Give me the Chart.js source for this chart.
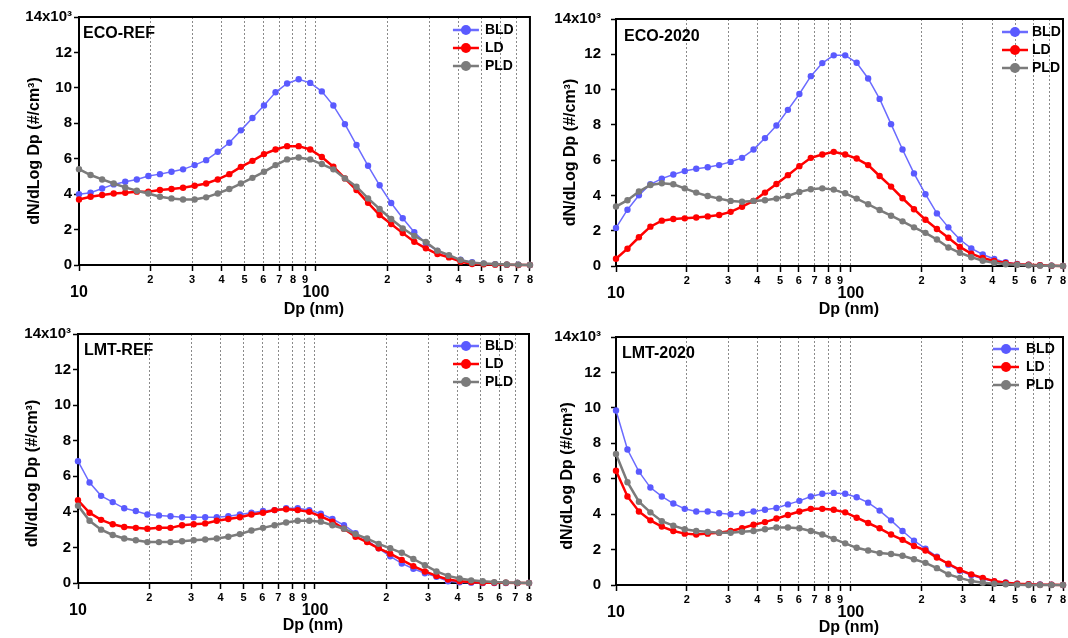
<!DOCTYPE html>
<html>
<head>
<meta charset="utf-8">
<script src="https://cdn.jsdelivr.net/npm/chart.js@4.4.1/dist/chart.umd.min.js"></script>
<style>
  html, body { margin: 0; padding: 0; background: #fff; }
  #wrap { position: relative; width: 1068px; height: 638px; overflow: hidden; }
  canvas { position: absolute; }
</style>
</head>
<body>
<div id="wrap">
  <canvas id="ecoRef" width="534" height="318" style="left:0;top:0"></canvas>
  <canvas id="eco2020" width="534" height="318" style="left:534px;top:0"></canvas>
  <canvas id="lmtRef" width="534" height="320" style="left:0;top:318px"></canvas>
  <canvas id="lmt2020" width="534" height="320" style="left:534px;top:318px"></canvas>
</div>
<script>
// particle diameters (nm), log spaced 10 -> 800
const diameters = [10.00, 11.19, 12.52, 14.01, 15.67, 17.54, 19.62, 21.96, 24.57, 27.49,
  30.76, 34.41, 38.51, 43.08, 48.21, 53.94, 60.35, 67.53, 75.56, 84.54,
  94.59, 105.86, 118.45, 132.53, 148.29, 165.92, 185.65, 207.72, 232.42, 260.06,
  290.98, 325.58, 364.29, 407.61, 456.07, 510.30, 570.97, 638.86, 714.82, 800.0];

const xTicks = [10, 20, 30, 40, 50, 60, 70, 80, 90, 100, 200, 300, 400, 500, 600, 700, 800];
const yMax = 14;
const yStep = 2;

// dN/dLogDp in units of 10^3 #/cm3
const ecoRefBld = [4.0, 4.08, 4.32, 4.55, 4.7, 4.83, 5.02, 5.13, 5.26, 5.4, 5.64, 5.92, 6.39, 6.9, 7.6, 8.3, 9.0, 9.75, 10.25, 10.49, 10.28, 9.8, 9.0, 7.95, 6.77, 5.6, 4.5, 3.5, 2.64, 1.85, 1.22, 0.8, 0.5, 0.3, 0.16, 0.08, 0.04, 0.02, 0.01, 0];
const ecoRefLd = [3.7, 3.85, 3.95, 4.04, 4.08, 4.14, 4.14, 4.23, 4.29, 4.36, 4.47, 4.6, 4.83, 5.13, 5.54, 5.88, 6.26, 6.52, 6.71, 6.71, 6.52, 6.1, 5.55, 4.89, 4.23, 3.51, 2.82, 2.31, 1.8, 1.31, 0.94, 0.62, 0.43, 0.19, 0.05, 0.04, 0.02, 0.01, 0, 0];
const ecoRefPld = [5.41, 5.08, 4.83, 4.6, 4.38, 4.19, 4.04, 3.85, 3.76, 3.7, 3.7, 3.82, 4.04, 4.29, 4.6, 4.92, 5.26, 5.64, 5.96, 6.07, 5.96, 5.7, 5.4, 4.89, 4.42, 3.76, 3.16, 2.6, 2.07, 1.64, 1.3, 0.81, 0.56, 0.28, 0.13, 0.09, 0.05, 0.03, 0.02, 0];

const eco2020Bld = [2.16, 3.19, 4.01, 4.63, 4.95, 5.19, 5.38, 5.51, 5.6, 5.72, 5.9, 6.13, 6.6, 7.25, 7.96, 8.85, 9.75, 10.76, 11.5, 11.94, 11.94, 11.52, 10.63, 9.47, 8.04, 6.6, 5.25, 4.07, 2.98, 2.19, 1.5, 1.0, 0.65, 0.4, 0.22, 0.12, 0.07, 0.04, 0.02, 0];
const eco2020Ld = [0.41, 0.98, 1.63, 2.23, 2.57, 2.66, 2.7, 2.75, 2.81, 2.89, 3.07, 3.36, 3.69, 4.16, 4.65, 5.15, 5.66, 6.13, 6.32, 6.47, 6.32, 6.09, 5.72, 5.1, 4.5, 3.84, 3.22, 2.62, 2.1, 1.6, 1.08, 0.7, 0.45, 0.28, 0.17, 0.1, 0.07, 0.04, 0.02, 0];
const eco2020Pld = [3.37, 3.73, 4.22, 4.59, 4.69, 4.63, 4.4, 4.16, 3.97, 3.82, 3.69, 3.64, 3.69, 3.73, 3.82, 3.97, 4.2, 4.35, 4.4, 4.33, 4.12, 3.82, 3.5, 3.17, 2.85, 2.53, 2.19, 1.88, 1.5, 1.05, 0.75, 0.5, 0.3, 0.18, 0.1, 0.07, 0.04, 0.02, 0.02, 0];

const lmtRefBld = [6.85, 5.65, 4.9, 4.55, 4.2, 4.05, 3.85, 3.8, 3.75, 3.7, 3.7, 3.7, 3.7, 3.75, 3.85, 3.95, 4.05, 4.1, 4.2, 4.2, 4.1, 3.9, 3.6, 3.25, 2.8, 2.4, 1.95, 1.5, 1.1, 0.8, 0.55, 0.35, 0.1, 0.04, 0.02, 0, 0, 0, 0, 0];
const lmtRefLd = [4.65, 3.95, 3.55, 3.3, 3.15, 3.1, 3.05, 3.1, 3.1, 3.25, 3.3, 3.35, 3.5, 3.6, 3.7, 3.85, 3.95, 4.1, 4.15, 4.1, 4.0, 3.75, 3.45, 3.05, 2.6, 2.3, 1.95, 1.65, 1.3, 0.95, 0.65, 0.4, 0.2, 0.1, 0.05, 0.02, 0.02, 0.01, 0, 0];
const lmtRefPld = [4.35, 3.5, 3.0, 2.7, 2.5, 2.4, 2.3, 2.3, 2.3, 2.35, 2.4, 2.45, 2.5, 2.6, 2.75, 2.95, 3.1, 3.25, 3.4, 3.5, 3.5, 3.45, 3.25, 3.05, 2.75, 2.5, 2.2, 1.95, 1.7, 1.35, 1.0, 0.65, 0.4, 0.25, 0.15, 0.1, 0.05, 0.03, 0.01, 0];

const lmt2020Bld = [9.85, 7.65, 6.4, 5.5, 5.0, 4.6, 4.3, 4.15, 4.15, 4.05, 4.0, 4.05, 4.15, 4.25, 4.35, 4.55, 4.75, 5.0, 5.15, 5.2, 5.15, 4.95, 4.65, 4.2, 3.65, 3.05, 2.5, 2.05, 1.6, 1.15, 0.8, 0.55, 0.35, 0.2, 0.15, 0.08, 0.05, 0.03, 0.02, 0];
const lmt2020Ld = [6.45, 5.0, 4.15, 3.65, 3.3, 3.05, 2.9, 2.85, 2.9, 2.95, 3.05, 3.2, 3.4, 3.55, 3.75, 3.95, 4.15, 4.3, 4.3, 4.25, 4.1, 3.8, 3.5, 3.2, 2.85, 2.55, 2.2, 1.95, 1.55, 1.2, 0.85, 0.6, 0.4, 0.22, 0.13, 0.07, 0.04, 0.02, 0.01, 0];
const lmt2020Pld = [7.4, 5.8, 4.7, 4.1, 3.6, 3.35, 3.15, 3.05, 3.0, 2.95, 2.95, 3.0, 3.05, 3.15, 3.25, 3.25, 3.2, 3.05, 2.85, 2.6, 2.35, 2.1, 1.95, 1.8, 1.75, 1.65, 1.45, 1.25, 0.95, 0.6, 0.4, 0.22, 0.13, 0.07, 0.04, 0.02, 0, 0, 0, 0];

const xTitle = 'Dp (nm)';
const yTitle = 'dN/dLog Dp (#/cm\u00b3)';

const FONT = "'Liberation Sans', Arial, Helvetica, sans-serif";
Chart.defaults.font.family = FONT;
Chart.defaults.color = '#000';

const BLD_LINE = '#6b6bff', BLD_DOT = '#5a5aff';
const LD_COLOR = '#ff0000';
const PLD_COLOR = '#7b7b7b';

// frame, axis titles, panel name and in-plot legend
const panelDecor = {
  id: 'panelDecor',
  beforeDatasetsDraw(chart) {
    const { ctx, chartArea: a } = chart;
    ctx.save();
    ctx.strokeStyle = '#000';
    ctx.lineWidth = 2;
    ctx.strokeRect(a.left, a.top, a.right - a.left, a.bottom - a.top);
    ctx.restore();
  },
  afterDraw(chart, args, o) {
    const { ctx, chartArea: a } = chart;
    ctx.save();
    ctx.fillStyle = '#000';
    ctx.textBaseline = 'middle';

    // axis titles
    ctx.font = 'bold 16px ' + FONT;
    ctx.textAlign = 'center';
    ctx.fillText(xTitle, chart.scales.x.getPixelForValue(100) - 2, o.xTitleY);
    ctx.save();
    ctx.translate(o.yTitleX, (a.top + a.bottom) / 2 + o.yTitleShift);
    ctx.rotate(-Math.PI / 2);
    ctx.fillText(yTitle, 0, 0);
    ctx.restore();

    ctx.textAlign = 'left';
    ctx.fillText(o.name, a.left + o.nameDx, a.top + o.nameDy);

    ctx.font = 'bold 14px ' + FONT;
    chart.data.datasets.forEach((ds, i) => {
      const y = a.top + o.legDy + i * 18;
      const mx = a.right + o.legMark;
      ctx.strokeStyle = ds.borderColor;
      ctx.lineWidth = 2.5;
      ctx.beginPath();
      ctx.moveTo(mx - 13, y);
      ctx.lineTo(mx + 13, y);
      ctx.stroke();
      ctx.fillStyle = ds.pointBackgroundColor;
      ctx.beginPath();
      ctx.arc(mx, y, 5, 0, Math.PI * 2);
      ctx.fill();
      ctx.fillStyle = '#000';
      ctx.fillText(ds.label, a.right + o.legText, y);
    });
    ctx.restore();
  }
};

function series(label, vals, line, dot, width, order) {
  return {
    label,
    data: diameters.map((d, i) => ({ x: d, y: vals[i] })),
    borderColor: line,
    backgroundColor: dot,
    pointBackgroundColor: dot,
    pointBorderColor: dot,
    borderWidth: width,
    pointRadius: 3.2,
    pointBorderWidth: 0,
    pointHoverRadius: 3.2,
    tension: 0,
    clip: false,
    order
  };
}

const isMajor = (v) => v === 10 || v === 100;

function makePanel(id, bld, ld, pld, g) {
  new Chart(document.getElementById(id), {
    type: 'line',
    data: {
      datasets: [
        series('BLD', bld, BLD_LINE, BLD_DOT, 1.5, 2),
        series('LD', ld, LD_COLOR, LD_COLOR, 2.5, 1),
        series('PLD', pld, PLD_COLOR, PLD_COLOR, 2.5, 0)
      ]
    },
    options: {
      responsive: false,
      animation: false,
      devicePixelRatio: 1,
      layout: { padding: { left: 0, right: g.padR, top: g.padT, bottom: 0 } },
      plugins: {
        legend: { display: false },
        tooltip: { enabled: false },
        panelDecor: g
      },
      scales: {
        x: {
          type: 'logarithmic',
          min: 10,
          max: 800,
          afterBuildTicks: (s) => { s.ticks = xTicks.map(v => ({ value: v })); },
          afterFit: (s) => { s.height = g.axisH; },
          ticks: {
            autoSkip: false,
            maxRotation: 0,
            padding: 1,
            color: '#000',
            callback: (v) => isMajor(v) ? ['', String(v)] : String(v >= 100 ? v / 100 : v / 10),
            font: (c) => (c.tick && isMajor(c.tick.value))
              ? { size: 16, weight: 'bold', lineHeight: '14px' }
              : { size: 11, weight: 'bold', lineHeight: '16px' }
          },
          grid: {
            drawTicks: true,
            tickLength: 6,
            tickColor: '#000',
            tickWidth: 1.5,
            lineWidth: 1,
            color: (c) => (c.tick && (c.tick.value === 10 || c.tick.value === 800)) ? 'rgba(0,0,0,0)' : '#8a8a8a'
          },
          border: { color: '#000', width: 2, dash: [2, 2] }
        },
        y: {
          min: 0,
          max: yMax,
          afterFit: (s) => { s.width = g.axisW; },
          ticks: {
            stepSize: yStep,
            padding: g.yPad,
            color: '#000',
            font: { size: 15, weight: 'bold' },
            callback: (v) => v === yMax ? '14x10\u00b3' : String(v)
          },
          grid: {
            display: true,
            drawOnChartArea: false,
            drawTicks: true,
            tickLength: 5,
            tickColor: '#000',
            tickWidth: 1.5
          },
          border: { color: '#000', width: 2 }
        }
      }
    },
    plugins: [panelDecor]
  });
}

makePanel('ecoRef', ecoRefBld, ecoRefLd, ecoRefPld,
  { name: 'ECO-REF', axisW: 79, padR: 4, padT: 17, axisH: 53, yPad: 2,
    xTitleY: 310, yTitleX: 35, yTitleShift: 10,
    nameDx: 4, nameDy: 17, legMark: -64, legText: -45, legDy: 13 });
makePanel('eco2020', eco2020Bld, eco2020Ld, eco2020Pld,
  { name: 'ECO-2020', axisW: 82, padR: 5, padT: 17, axisH: 52, yPad: 10,
    xTitleY: 310, yTitleX: 37, yTitleShift: 10,
    nameDx: 8, nameDy: 18, legMark: -48, legText: -31, legDy: 13 });
makePanel('lmtRef', lmtRefBld, lmtRefLd, lmtRefPld,
  { name: 'LMT-REF', axisW: 78, padR: 5, padT: 16, axisH: 55, yPad: 2,
    xTitleY: 308, yTitleX: 33, yTitleShift: 15,
    nameDx: 6, nameDy: 17, legMark: -63, legText: -44, legDy: 12 });
makePanel('lmt2020', lmt2020Bld, lmt2020Ld, lmt2020Pld,
  { name: 'LMT-2020', axisW: 82, padR: 5, padT: 18, axisH: 53, yPad: 10,
    xTitleY: 310, yTitleX: 34, yTitleShift: 15,
    nameDx: 6, nameDy: 17, legMark: -57, legText: -37, legDy: 12 });
</script>
</body>
</html>
